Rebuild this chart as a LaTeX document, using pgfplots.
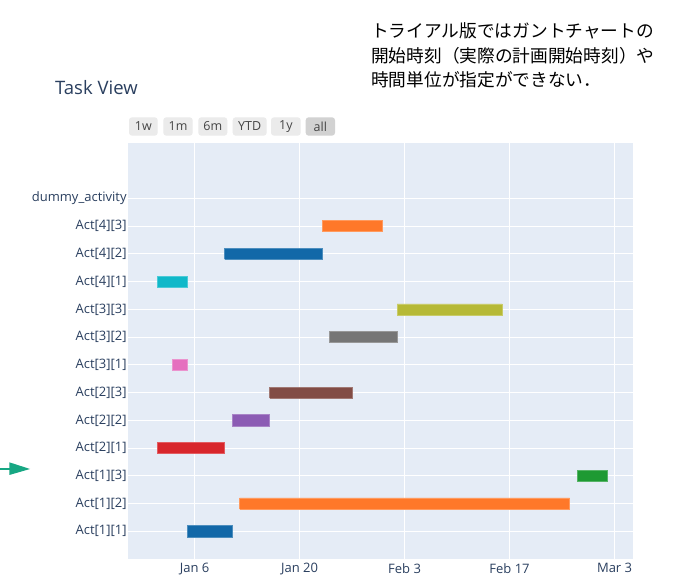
\documentclass[border=0pt]{standalone}
\usepackage{pgfplots}
\pgfplotsset{compat=1.18}
\usepackage{fontspec}
\setmainfont{Open Sans}
\newfontfamily\cjk{Noto Sans CJK JP}
\definecolor{plotbg}{HTML}{E5ECF6}
\definecolor{tickc}{HTML}{2A3F5F}
\definecolor{cBlue}{HTML}{1268A8}
\definecolor{cOrange}{HTML}{FF7829}
\definecolor{cGreen}{HTML}{1E9A33}
\definecolor{cRed}{HTML}{D8262C}
\definecolor{cPurple}{HTML}{8C5CB4}
\definecolor{cBrown}{HTML}{824C45}
\definecolor{cPink}{HTML}{E570BF}
\definecolor{cGray}{HTML}{767676}
\definecolor{cOlive}{HTML}{B6B936}
\definecolor{cCyan}{HTML}{10B8C9}
\definecolor{btn}{HTML}{EBEBEB}
\definecolor{btnact}{HTML}{D2D2D2}
\definecolor{arrowc}{HTML}{17A783}
\newcommand{\taskbar}[4]{% color, row, start, end
  \addplot[fill=#1, draw=#1!75!white, line width=0.6pt] coordinates {(#3,#2-0.2) (#4,#2-0.2) (#4,#2+0.2) (#3,#2+0.2) (#3,#2-0.2)};}
\begin{document}
\begin{tikzpicture}[x=1pt,y=1pt]
\path[use as bounding box, fill=white] (0,0) rectangle (674,578);
\begin{axis}[
  at={(128.3pt,19pt)}, anchor=south west,
  scale only axis, width=505pt, height=416pt,
  xmin=-3.84, xmax=63.5, ymin=-1, ymax=14,
  axis background/.style={fill=plotbg},
  axis line style={draw=none},
  tick style={draw=none},
  grid=major,
  major grid style={white, line width=1pt},
  xtick={5,19,33,47,61},
  xticklabels={Jan 6, Jan 20, Feb 3, Feb 17, Mar 3},
  ytick={0,1,2,3,4,5,6,7,8,9,10,11,12},
  yticklabels={Act[1][1],Act[1][2],Act[1][3],Act[2][1],Act[2][2],Act[2][3],Act[3][1],Act[3][2],Act[3][3],Act[4][1],Act[4][2],Act[4][3],dummy\_activity},
  ticklabel style={font=\fontsize{13}{15}\selectfont, text=tickc},
  yticklabel style={inner sep=1pt, xshift=-0.5pt},
  xticklabel style={inner sep=1pt, yshift=-3pt},
  clip=false,
]
\taskbar{cBlue}{0}{4}{10}
\taskbar{cOrange}{1}{11}{55}
\taskbar{cGreen}{2}{56}{60}
\taskbar{cRed}{3}{0}{9}
\taskbar{cPurple}{4}{10}{15}
\taskbar{cBrown}{5}{15}{26}
\taskbar{cPink}{6}{2}{4}
\taskbar{cGray}{7}{23}{32}
\taskbar{cOlive}{8}{32}{46}
\taskbar{cCyan}{9}{0}{4}
\taskbar{cBlue}{10}{9}{22}
\taskbar{cOrange}{11}{22}{30}
\end{axis}
% title
\node[anchor=base west, inner sep=0pt, text=tickc, font=\fontsize{18.5}{22}\selectfont] at (55,483.5) {Task View};
% range selector buttons
\foreach \xa/\xb/\lab/\col in {129/157.7/1w/btn, 163.3/192.7/1m/btn, 198.3/227.3/6m/btn, 232.7/266.7/YTD/btn, 271/300.7/1y/btn, 305.7/335/all/btnact}{
  \fill[\col, rounded corners=3pt] (\xa,442.3) rectangle (\xb,460.7);
  \node[text=black!73, font=\fontsize{12.5}{14}\selectfont, inner sep=0pt] at ({(\xa+\xb)/2},451.5) {\lab};
}
% annotation
\node[anchor=west, inner sep=0pt, font=\cjk\fontsize{17.7}{24.5}\selectfont, align=left] at (371,522.5) {トライアル版ではガントチャートの\\開始時刻（実際の計画開始時刻）や\\時間単位が指定ができない．};
% arrow
\draw[arrowc, line width=2pt] (0,109) -- (12,109);
\fill[arrowc] (9.3,115.7) -- (30,109) -- (9.3,103) -- cycle;
\end{tikzpicture}
\end{document}
